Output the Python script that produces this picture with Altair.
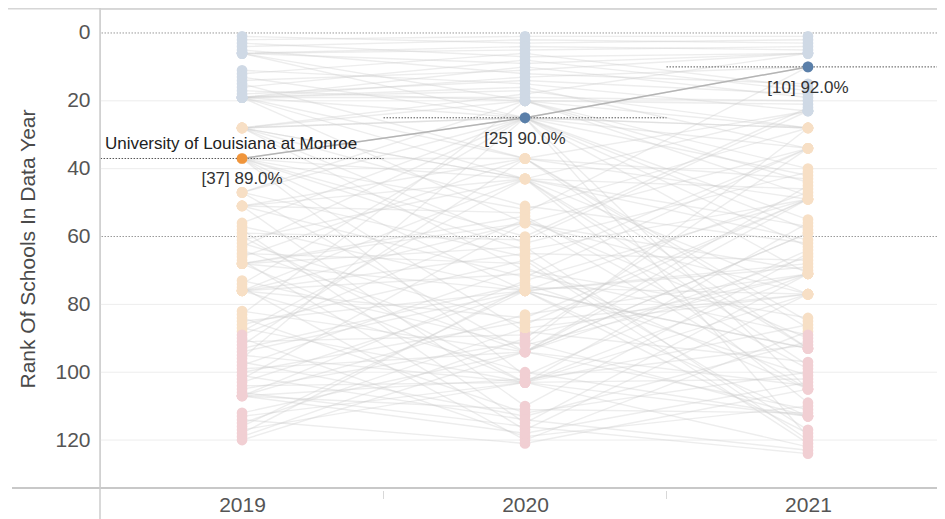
import altair as alt
import pandas as pd

years = [2019, 2020, 2021]

rank_2019 = [
    1, 2, 3, 4, 5, 6, 6, 6, 6, 6,
    11, 12, 13, 14, 15, 16, 17, 18, 19, 19,
    19, 19, 19, 19, 19, 19, 19, 28, 28, 28,
    28, 28, 28, 28, 28, 28, 37, 37, 37, 37,
    37, 37, 37, 37, 37, 37, 47, 47, 47, 47,
    51, 51, 51, 51, 51, 56, 57, 58, 59, 60,
    61, 62, 63, 64, 65, 66, 67, 68, 68, 68,
    68, 68, 73, 74, 75, 76, 76, 76, 76, 76,
    76, 82, 83, 84, 85, 86, 87, 88, 89, 90,
    91, 92, 93, 94, 95, 96, 97, 98, 99, 100,
    101, 102, 103, 104, 105, 106, 107, 107, 107, 107,
    107, 112, 113, 114, 115, 116, 117, 118, 119, 120,
    None, None, None, None,
]
rank_2020 = [
    3, 1, 7, 2, 12, 20, 5, 25, 9, 4,
    15, 6, 25, 11, 37, 8, 20, 14, 43, 10,
    17, 25, 13, 56, 19, 37, 16, 43, 20, 62,
    18, 51, 25, 70, 43, 25, 25, 64, 37, 76,
    52, 25, 88, 60, 43, 101, 20, 66, 25, 94,
    37, 110, 53, 43, 72, 25, 76, 115, 61, 103,
    43, 86, 25, 94, 68, 37, 117, 56, 76, 54,
    103, 63, 92, 25, 120, 65, 43, 84, 100, 56,
    71, 94, 20, 112, 76, 67, 103, 43, 55, 119,
    89, 37, 74, 76, 103, 25, 113, 69, 94, 85,
    114, 56, 76, 103, 91, 116, 73, 102, 118, 83,
    111, 94, 103, 121, 87, 76, 103, 75, 90, 94,
    92, 94, None, None,
]
rank_2021 = [
    2, 1, 6, 3, 15, 28, 4, 34, 6, 5,
    23, 16, 10, 6, 49, 17, 40, 18, 61, 19,
    28, 71, 10, 77, 20, 23, 34, 93, 21, 41,
    6, 62, 42, 84, 23, 105, 10, 49, 43, 113,
    28, 63, 97, 22, 77, 64, 44, 117, 28, 45,
    85, 65, 10, 98, 34, 55, 118, 71, 23, 86,
    46, 49, 119, 66, 34, 87, 77, 105, 47, 99,
    56, 120, 71, 28, 88, 67, 109, 49, 113, 34,
    89, 59, 48, 100, 68, 121, 77, 57, 90, 110,
    71, 93, 101, 69, 122, 58, 91, 105, 111, 77,
    123, 70, 93, 102, 113, 124, 49, 92, 103, 71,
    112, 104, 113, 105, 77, 93, 71, 77, 34, 59,
    28, 49, 10, 23,
]

highlight_school = 36
highlight_name = "University of Louisiana at Monroe"
highlight_pct = [89.0, 90.0, 92.0]

y_ticks = [0, 20, 40, 60, 80, 100, 120]
grid_solid = [20, 40, 80, 100, 120]
grid_dotted = [0, 60]
pane_edges = [2019.5, 2020.5]

FONT = "Liberation Sans"


def band(r):
    if r <= 25:
        return "Top"
    if r <= 88:
        return "Middle"
    return "Bottom"


rows = []
for i, ranks in enumerate(zip(rank_2019, rank_2020, rank_2021)):
    for yr, r in zip(years, ranks):
        if r is None:
            continue
        rows.append({"school": i, "year": yr, "rank": r, "band": band(r),
                     "hl": i == highlight_school})
df = pd.DataFrame(rows)
bg = df[~df["hl"]]
hl = df[df["hl"]].copy().reset_index(drop=True)
hl["label"] = [f"[{r}] {p:.1f}%" for r, p in zip(hl["rank"], highlight_pct)]
hl["x0"] = hl["year"] - 0.5
hl["x1"] = hl["year"] + 0.5
hl["name"] = [highlight_name if k == 0 else "" for k in range(len(hl))]

xs = alt.Scale(domain=[2018.498, 2021.456], nice=False, zero=False)
ys = alt.Scale(domain=[-7.07, 134.14], reverse=True, nice=False, zero=False)

X = alt.X("year:Q", scale=xs,
          axis=alt.Axis(values=years, format="d", title=None, grid=False,
                        ticks=False, domain=False, labelFontSize=21,
                        labelColor="#555555", labelPadding=6, labelFont=FONT))
Y = alt.Y("rank:Q", scale=ys,
          axis=alt.Axis(values=y_ticks, title="Rank Of Schools In Data Year",
                        grid=False, ticks=False, domain=False,
                        labelFontSize=21, labelColor="#555555", labelPadding=10,
                        labelFont=FONT, titleFont=FONT, titleFontSize=21,
                        titleFontWeight="normal", titleColor="#4a4a4a",
                        titlePadding=16))

grid1 = alt.Chart(pd.DataFrame({"rank": grid_solid})).mark_rule(
    color="#ededed", strokeWidth=1).encode(y=Y)
grid2 = alt.Chart(pd.DataFrame({"rank": grid_dotted})).mark_rule(
    color="#9a9a9a", strokeWidth=1, strokeDash=[1.5, 1.5]).encode(y=Y)

bg_lines = alt.Chart(bg).mark_line(
    color="#cccccc", opacity=0.36, strokeWidth=1.4).encode(
    x=X, y=Y, detail="school:N", order="year:Q")

bg_points = alt.Chart(bg).mark_circle(size=115, opacity=1).encode(
    x=X, y=Y,
    color=alt.Color("band:N", legend=None,
                    scale=alt.Scale(domain=["Top", "Middle", "Bottom"],
                                    range=["#cfd9e5", "#f7dfc5", "#f1cfd3"])))

hl_ref = alt.Chart(hl).mark_rule(
    color="#555555", strokeWidth=1, strokeDash=[1.5, 1.5], clip=True).encode(
    x=alt.X("x0:Q", scale=xs), x2="x1:Q", y=Y)

hl_line = alt.Chart(hl).mark_line(color="#b4b4b4", strokeWidth=1.5).encode(
    x=X, y=Y, order="year:Q")

hl_points = alt.Chart(hl).mark_circle(size=115, opacity=1).encode(
    x=X, y=Y,
    color=alt.Color("band:N", legend=None,
                    scale=alt.Scale(domain=["Top", "Middle", "Bottom"],
                                    range=["#5a7fa9", "#f0953b", "#e15759"])))

hl_labels = alt.Chart(hl).mark_text(
    font=FONT, fontSize=17, color="#333333", dy=21, baseline="middle").encode(
    x=X, y=Y, text="label:N")

hl_name = alt.Chart(hl[hl["name"] != ""]).mark_text(
    font=FONT, fontSize=17, color="#222222", dx=-11, dy=-14,
    baseline="middle").encode(x=X, y=Y, text="name:N")

pane_ticks = alt.Chart(pd.DataFrame({"year": pane_edges})).mark_rule(
    color="#d8d8d8", strokeWidth=1).encode(
    x=alt.X("year:Q", scale=xs), y=alt.value(482), y2=alt.value(490))

frame_df = pd.DataFrame({"a": [0]})
top_line = alt.Chart(frame_df).mark_rule(color="#d6d6d6", strokeWidth=1.5).encode(
    x=alt.value(-92), x2=alt.value(837), y=alt.value(-0.2))
bottom_line = alt.Chart(frame_df).mark_rule(color="#c8c8c8", strokeWidth=2).encode(
    x=alt.value(-88), x2=alt.value(837), y=alt.value(479))
left_line = alt.Chart(frame_df).mark_rule(color="#cccccc", strokeWidth=1.5).encode(
    x=alt.value(0), y=alt.value(-1), y2=alt.value(510))

chart = alt.layer(
    grid1, grid2, bg_lines, bg_points, hl_ref, hl_line, hl_points,
    hl_labels, hl_name, pane_ticks, top_line, bottom_line, left_line
).resolve_scale(color="independent").properties(
    width=837, height=479,
    autosize=alt.AutoSizeParams(type="none"),
    padding={"left": 92, "top": 1, "right": 0, "bottom": 31},
).configure_view(stroke=None).configure(background="white")

chart.save("out.html", embed_options={"renderer": "svg", "actions": False})
